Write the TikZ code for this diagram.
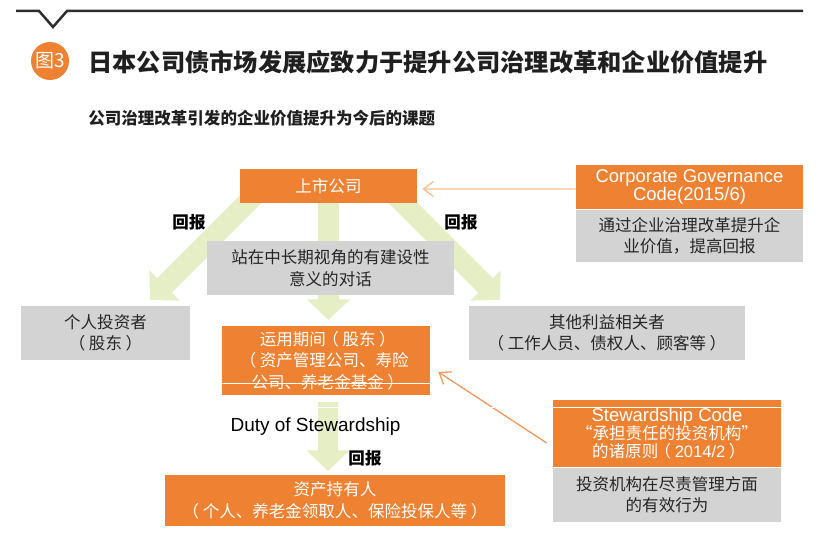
\documentclass[tikz,border=0pt]{standalone}
\usepackage{fontspec}
\setmainfont{Liberation Sans}
\newfontfamily\cjk{Noto Sans CJK SC}[Script=CJK]
\usetikzlibrary{arrows.meta,backgrounds}
\definecolor{boxorange}{RGB}{238,130,50}
\definecolor{boxgrey}{RGB}{211,211,211}
\definecolor{arrowgreen}{RGB}{229,238,196}
\definecolor{lineorange}{RGB}{241,152,92}
\definecolor{paleorange}{RGB}{248,190,146}
\definecolor{textdark}{RGB}{38,38,38}
\definecolor{rulegrey}{RGB}{45,45,45}
\newcommand{\boxfont}{\cjk\fontsize{9.4}{12.2}\selectfont}
\newcommand{\latinfont}{\rmfamily\fontsize{10.5}{9.7}\selectfont}
\newcommand{\lpar}{\kern-0.22em（\kern0.22em}
\newcommand{\rpar}{\kern0.22em）\kern-0.22em}
\begin{document}
\begin{tikzpicture}[
  orangebox/.style={fill=boxorange, text=white, inner sep=0pt, align=center, font=\boxfont},
  greybox/.style={fill=boxgrey, text=textdark, inner sep=0pt, align=center, font=\boxfont},
  bigarrow/.style={draw=arrowgreen, line width=0.41cm, -{Triangle[length=0.41cm,width=0.83cm]}},
  thinarrow/.style={line width=0.026cm, -{Straight Barb[length=0.2cm,width=0.3cm]}},
  huibao/.style={text=black, font=\cjk\bfseries\fontsize{9.4}{11}\selectfont},
  artefact/.style={draw=white, line width=0.02cm}]
                \useasboundingbox (0,0) rectangle (16.640000,11.040000);
                {\cjk

                % Drawing top rule with notch
                \draw [line width=0.05cm, rulegrey] (0.320000,10.820000) -- (0.780000,10.820000) -- (1.060000,10.500000) -- (1.340000,10.820000) -- (16.060000,10.820000);%

                % Marking figure number by circle
                \node [circle, fill=boxorange, text=white, inner sep=0pt, minimum size=0.76cm, font=\cjk\fontsize{10.8}{12}\selectfont] (fignum) at (1.000000,9.820000) {图3};%
                \node [anchor=west, inner sep=0pt, text=black!88, font=\cjk\bfseries\fontsize{13.8}{16}\selectfont] (title) at (1.760000,9.800000) {日本公司债市场发展应致力于提升公司治理改革和企业价值提升};%
                \node [anchor=west, inner sep=0pt, text=black!88, font=\cjk\bfseries\fontsize{9.4}{11}\selectfont] (subtitle) at (1.760000,8.680000) {公司治理改革引发的企业价值提升为今后的课题};%

                % Drawing box listed company
                \node [orangebox, minimum width=3.54cm, minimum height=0.68cm] (ssgs) at (6.570000,7.320000) {上市公司};%

                % Drawing box corporate governance code
                \node [orangebox, minimum width=4.54cm, minimum height=0.88cm, font=\latinfont] (cgt) at (13.790000,7.300000) {Corporate Governance\\Code(2015/6)};%
                \node [greybox, anchor=north, minimum width=4.54cm, minimum height=1.04cm] (cgd) at (cgt.south) {通过企业治理改革提升企\\业价值，提高回报};%

                % Drawing box dialogue
                \node [greybox, minimum width=4.94cm, minimum height=1.08cm] (dlg) at (6.610000,5.680000) {站在中长期视角的有建设性\\意义的对话};%

                % Drawing box individual investors
                \node [greybox, minimum width=3.38cm, minimum height=1.08cm] (grtz) at (2.110000,4.380000) {个人投资者\\\lpar 股东\rpar};%

                % Drawing box other stakeholders
                \node [greybox, minimum width=5.52cm, minimum height=1.08cm] (qtlx) at (12.140000,4.380000) {其他利益相关者\\\lpar 工作人员、债权人、顾客等\rpar};%

                % Drawing box asset managers
                \node [orangebox, minimum width=4.16cm, minimum height=1.38cm] (yyqj) at (6.520000,3.830000) {运用期间\lpar 股东\rpar\\\lpar 资产管理公司、寿险\\公司、养老金基金\rpar};%

                % Drawing box stewardship code
                \node [orangebox, minimum width=4.56cm, minimum height=1.34cm, font=\cjk\fontsize{9.4}{10.2}\selectfont] (sc) at (13.340000,2.370000) {{\latinfont Stewardship Code}\\“承担责任的投资机构”\\的诸原则\lpar{\rmfamily 2014/2}\rpar};%
                \node [greybox, anchor=north, minimum width=4.56cm, minimum height=1.08cm] (scd) at (sc.south) {投资机构在尽责管理方面\\的有效行为};%

                % Drawing box asset owners
                \node [orangebox, minimum width=6.80cm, minimum height=1.02cm] (zcsy) at (6.700000,1.030000) {资产持有人\\\lpar 个人、养老金领取人、保险投保人等\rpar};%

                % Marking labels
                \node [huibao] (hbl) at (3.780000,6.600000) {回报};%
                \node [huibao] (hbr) at (9.220000,6.600000) {回报};%
                \node [huibao] (hbb) at (7.300000,1.880000) {回报};%
                \node [text=black, font=\rmfamily\fontsize{10.8}{12}\selectfont] (duty) at (6.310000,2.500000) {Duty of Stewardship};%

                % Marking arrow ends
                \coordinate (tipl) at (3.000000,5.040000);%
                \coordinate (tipr) at (10.000000,5.040000);%
                \coordinate (tipm) at (6.570000,4.640000);%
                \coordinate (tipb) at (6.560000,1.620000);%

                % Drawing broad arrows behind boxes
                \begin{scope}[on background layer]
                \draw [bigarrow] ([xshift=0.4cm,yshift=0.26cm]ssgs.south west) -- (tipl);%
                \draw [bigarrow] ([xshift=-0.54cm,yshift=0.26cm]ssgs.south east) -- (tipr);%
                \draw [bigarrow] (ssgs.south) -- (tipm);%
                \draw [bigarrow] ([xshift=0.04cm,yshift=-0.14cm]yyqj.south) -- (tipb);%
                \end{scope}

                % Drawing thin arrows from the codes
                \draw [thinarrow, paleorange] ([yshift=-0.04cm]cgt.west) -- ([xshift=0.1cm,yshift=-0.06cm]ssgs.east);%
                \draw [thinarrow, lineorange] ([xshift=-0.12cm,yshift=-0.19cm]sc.west) -- ([xshift=0.16cm,yshift=-0.23cm]yyqj.east);%

                % Drawing white rules across boxes
                \draw [artefact] ([yshift=0.24cm]yyqj.south west) -- ([yshift=0.24cm]yyqj.south east);%
                \draw [artefact] ([yshift=-0.16cm]sc.north east) -- ++(-9.300000,0);%
                }
\end{tikzpicture}
\end{document}
